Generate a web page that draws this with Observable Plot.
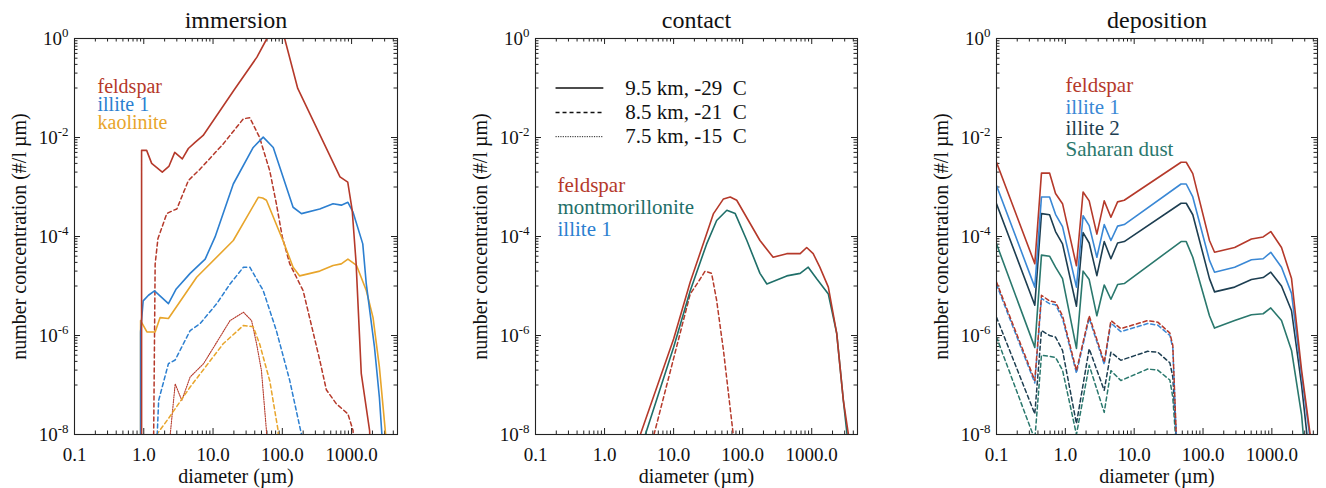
<!DOCTYPE html>
<html><head><meta charset="utf-8">
<script src="https://cdn.jsdelivr.net/npm/d3@7"></script>
<script src="https://cdn.jsdelivr.net/npm/@observablehq/plot@0.6"></script>
<style>
body{margin:0;background:#fff;}
#wrap{position:relative;width:1326px;height:488px;overflow:hidden;background:#fff;}
#wrap svg{position:absolute;top:0;}
#wrap svg, #wrap svg text, #wrap svg tspan{font-family:"Liberation Serif","Times New Roman",Times,serif !important;}
</style></head><body><div id="wrap"></div>
<script>
// ---------- tick labels / titles ----------
const panelTitles = ["immersion", "contact", "deposition"];
const xTickValues = [0.1, 1, 10, 100, 1000];
const yTickValues = [1, 1e-2, 1e-4, 1e-6, 1e-8];
const xLabel = "diameter (µm)";
const yLabel = "number concentration (#/l µm)";

// ---------- immersion ----------
const immFeldspar95 = [[0.93,1e-9],[0.93,5.5e-3],[1.1,5.5e-3],[1.3,3.0e-3],[1.85,2.0e-3],[2.3,2.6e-3],[2.8,5.0e-3],[3.6,3.7e-3],[4.4,6.0e-3],[5.5,8.0e-3],[7.2,1.1e-2],[20,9e-2],[43,0.42],[60,1.0],[89,2.8],[108,1.0],[167,0.098],[680,1.6e-3],[880,1.25e-3],[1020,3.4e-4],[1160,3e-5],[1380,1.7e-7],[1820,1.2e-8],[1950,1e-9]];
const immFeldspar85 = [[1.37,1e-9],[1.46,2.8e-5],[1.6,9e-5],[2.15,2.9e-4],[2.7,3.4e-4],[3.0,3.6e-4],[4.4,1.35e-3],[6.5,2.3e-3],[14,7.4e-3],[27.5,2.4e-2],[34,2.5e-2],[47,1.0e-2],[66,2.1e-3],[82,4.6e-4],[100,9.8e-5],[128,2.8e-5],[160,1.5e-5],[200,8e-6],[347,3.2e-7],[432,8e-8],[600,4.2e-8],[885,2.6e-8],[1050,1.2e-8],[1120,1e-9]];
const immFeldspar75 = [[2.05,1e-9],[2.84,1.05e-7],[3.54,4.9e-8],[4.67,1.45e-7],[7.3,2.7e-7],[17.6,2e-6],[27.5,2.95e-6],[36,2e-6],[42.5,6.8e-7],[50,1.95e-7],[59,1.2e-8],[62,1e-9]];
const immIllite95 = [[0.9,1e-9],[0.9,1.2e-6],[0.98,5e-6],[1.17,6.5e-6],[1.43,8e-6],[2.27,4.4e-6],[2.94,8.7e-6],[4.67,1.8e-5],[7.7,3.5e-5],[10.7,9.8e-5],[19.6,1.15e-3],[38,6.3e-3],[53,1.02e-2],[74,6.3e-3],[143,3.9e-4],[189,2.9e-4],[347,3.6e-4],[540,4.6e-4],[710,4.3e-4],[885,4.9e-4],[1050,3.1e-4],[1450,7.1e-5],[1630,1.1e-5],[2140,5.8e-7],[2520,5.6e-8],[2740,1e-8],[2900,1e-9]];
const immIllite85 = [[1.46,1e-9],[1.64,4.9e-8],[2.27,2.7e-7],[2.84,3.2e-7],[4.67,1.26e-6],[6.5,1.74e-6],[11.3,4.4e-6],[17.6,1.1e-5],[27.5,2.4e-5],[34,2.4e-5],[53,8.1e-6],[82,1.26e-6],[128,1.23e-7],[189,1e-8],[200,1e-9]];
const immKaolinite95 = [[0.9,1e-9],[0.9,2e-6],[1.11,1.18e-6],[1.46,1.18e-6],[1.72,2.3e-6],[2.27,2.2e-6],[5.8,1.5e-5],[19.6,8.3e-5],[45,6.2e-4],[52,6e-4],[59,5.4e-4],[102,8.3e-5],[143,2.4e-5],[178,1.6e-5],[347,2e-5],[540,2.6e-5],[710,2.8e-5],[885,3.5e-5],[1180,2.6e-5],[1630,8.1e-6],[2040,2.3e-6],[2520,2.3e-7],[3100,1e-8],[3300,1e-9]];
const immKaolinite85 = [[1.5,1e-9],[1.54,1e-8],[2.27,2.1e-8],[4.67,9.1e-8],[14,6.8e-7],[27.5,1.6e-6],[38,1.5e-6],[47,6.8e-7],[66,1.2e-7],[87,1.2e-8],[90,1e-9]];

// ---------- contact ----------
const conFeldspar95 = [[3.3,1e-8],[10,8.5e-7],[17.4,1.2e-5],[30,1.12e-4],[37.8,2.9e-4],[52.7,5.75e-4],[66,6.3e-4],[82,5.4e-4],[178,8.3e-5],[276,3.8e-5],[435,4.5e-5],[680,4.5e-5],[845,6e-5],[1050,4.5e-5],[1310,2.4e-5],[1740,9.5e-6],[2300,1.1e-6],[2870,4.9e-8],[3400,1e-8],[3500,1e-9]];
const conMontmor95 = [[3.9,1e-8],[10,5.8e-7],[17.4,8e-6],[30,7e-5],[42,2.1e-4],[59,3.4e-4],[78,2.9e-4],[115,8.3e-5],[178,1.8e-5],[224,1.1e-5],[435,1.6e-5],[680,1.8e-5],[890,2.4e-5],[1180,1.4e-5],[1740,6.9e-6],[2300,1.1e-6],[2870,4.9e-8],[3250,1e-8],[3350,1e-9]];
const conFeldspar85 = [[5.2,1e-8],[17.4,6.9e-6],[21.8,1.1e-5],[28.6,2e-5],[35.5,1.8e-5],[42,5.1e-6],[52.7,5e-7],[73,1e-8],[76,1e-9]];

// ---------- deposition ----------
const depSolidD = [0.1,0.36,0.45,0.59,0.72,0.91,1.45,1.81,2.22,2.87,3.67,4.59,5.74,7.17,48,57,71,124,147,288,505,747,964,1380,1930,2700,3600];
const depFeldspar95 = [3.16e-3,2.82e-5,1.91e-3,1.91e-3,7.4e-4,4.6e-4,2.57e-5,7.9e-4,5.25e-4,1.12e-4,5.25e-4,2.45e-4,5.0e-4,5.4e-4,3.16e-3,3.16e-3,1.86e-3,8.3e-5,4.8e-5,6.0e-5,8.9e-5,9.8e-5,1.26e-4,6.0e-5,1.41e-5,2.0e-7,1e-8];
const depIllite1_95 = [1.07e-3,9.5e-6,6.3e-4,6.3e-4,2.8e-4,1.58e-4,9.5e-6,2.63e-4,1.66e-4,3.8e-5,1.74e-4,8.3e-5,1.62e-4,1.74e-4,1.15e-3,1.15e-3,6.3e-4,3.3e-5,1.9e-5,2.4e-5,3.4e-5,3.55e-5,4.8e-5,2.4e-5,7.1e-6,1.6e-7,7.9e-9];
const depIllite2_95 = [4.6e-4,4.1e-6,2.9e-4,2.75e-4,1.26e-4,7.1e-5,3.9e-6,1.2e-4,7.4e-5,1.62e-5,7.9e-5,3.55e-5,7.4e-5,7.9e-5,4.7e-4,4.7e-4,2.75e-4,1.41e-5,7.6e-6,9.5e-6,1.35e-5,1.48e-5,1.9e-5,1.0e-5,3.16e-6,1.0e-7,2.5e-9];
const depSaharan95 = [7.1e-5,5.75e-7,4.2e-5,4.0e-5,2.4e-5,1.41e-5,5.5e-7,2.0e-5,1.35e-5,2.5e-6,1.05e-5,5.4e-6,1.07e-5,1.12e-5,7.9e-5,7.9e-5,3.8e-5,2.5e-6,1.41e-6,2.0e-6,2.63e-6,2.75e-6,3.6e-6,2.0e-6,5.0e-7,2.5e-8,2.5e-10];
const depDashD = [0.1,0.36,0.45,0.59,0.72,0.91,1.45,2.22,3.67,4.59,6.4,15.7,22,33,36.4,40.6,42];
const depFeldspar85 = [1.2e-5,1.23e-7,6.5e-6,5.0e-6,4.7e-6,2.5e-6,1.95e-7,2.5e-6,2.9e-7,2.0e-6,1.38e-6,2.0e-6,1.86e-6,1.12e-6,6.3e-7,1.2e-8,1e-9];
const depIllite1_85 = [1.07e-5,1.1e-7,5.6e-6,4.4e-6,4.2e-6,2.2e-6,1.74e-7,2.24e-6,2.6e-7,1.78e-6,1.2e-6,1.74e-6,1.62e-6,1.0e-6,5.6e-7,1.1e-8,1e-9];
const depIllite2_85 = [2.34e-6,2.6e-8,1.26e-6,1.0e-6,9.3e-7,5.0e-7,1.66e-8,5.4e-7,7.8e-8,4.6e-7,3.16e-7,4.8e-7,4.6e-7,2.8e-7,1.45e-7,1e-8,1e-9];
const depSaharan85 = [9.3e-7,7.9e-9,4.0e-7,3.8e-7,3.6e-7,2.0e-7,1.0e-8,2.5e-7,2.8e-8,1.95e-7,1.23e-7,2.1e-7,2.0e-7,1.26e-7,5.6e-8,6.3e-9,1e-9];

// ---------- legends ----------
const styleLegendLabels = ["9.5 km, -29  C", "8.5 km, -21  C", "7.5 km, -15  C"];
const styleLegendY = [0.1, 0.032, 0.0104];
const styleLegendStyles = ["solid", "dashed", "dotted"];

const C = {feldspar:"#b5392a", illite1:"#2c7fd0", kaolinite:"#e8a52b", montmorillonite:"#1f6f69", illite2:"#1d3e51", saharan:"#2a786d", illite1dep:"#3a88d5"};
const STYLE = {solid:{w:1.6, dash:null}, dashed:{w:1.5, dash:"4,3"}, dotted:{w:1.1, dash:"1.2,1.2"}};

const zip = (xs, ys) => xs.map((x, i) => [x, ys[i]]);

const panels = [
  {left:0, width:440, ml:74, mr:43,
   series:[
     [immFeldspar75,"dotted",C.feldspar],[immKaolinite85,"dashed",C.kaolinite],[immIllite85,"dashed",C.illite1],[immFeldspar85,"dashed",C.feldspar],
     [immKaolinite95,"solid",C.kaolinite],[immIllite95,"solid",C.illite1],[immFeldspar95,"solid",C.feldspar]],
   legend:{items:[["feldspar",C.feldspar],["illite 1",C.illite1],["kaolinite",C.kaolinite]], dx:23, dy:48, step:18, size:20}},
  {left:440, width:440, ml:95, mr:23,
   series:[[conFeldspar85,"dashed",C.feldspar],[conMontmor95,"solid",C.montmorillonite],[conFeldspar95,"solid",C.feldspar]],
   legend:{items:[["feldspar",C.feldspar],["montmorillonite",C.montmorillonite],["illite 1",C.illite1]], dx:22, dy:147, step:22, size:21},
   styleLegend:true},
  {left:880, width:446, ml:116, mr:9,
   series:[
     [zip(depDashD,depSaharan85),"dashed",C.saharan],[zip(depDashD,depIllite2_85),"dashed",C.illite2],[zip(depDashD,depIllite1_85),"dashed",C.illite1dep],[zip(depDashD,depFeldspar85),"dashed",C.feldspar],
     [zip(depSolidD,depSaharan95),"solid",C.saharan],[zip(depSolidD,depIllite2_95),"solid",C.illite2],[zip(depSolidD,depIllite1_95),"solid",C.illite1dep],[zip(depSolidD,depFeldspar95),"solid",C.feldspar]],
   legend:{items:[["feldspar",C.feldspar],["illite 1",C.illite1dep],["illite 2",C.illite2],["Saharan dust",C.saharan]], dx:69, dy:47, step:21.3, size:21}}
];

const H = 488, MT = 38, MB = 54;
const xMinor = [];
for (let k = -1; k <= 3; k++) for (let m = 2; m <= 9; m++) { const v = m * 10 ** k; if (v <= 4600) xMinor.push(v); }
const yMinor = [];
for (const n of [-1, -3, -5, -7]) for (let m = 1; m <= 9; m++) yMinor.push(m * 10 ** n);

const wrap = document.getElementById("wrap");
const FONT = '"Liberation Serif", "Times New Roman", Times, serif';

panels.forEach((p, pi) => {
  const iw = p.width - p.ml - p.mr, ih = H - MT - MB;
  const tickStroke = "#222";
  const marks = [
    Plot.ruleX(xTickValues, {insetTop: ih - 6, stroke: tickStroke}),
    Plot.ruleX(xMinor, {insetTop: ih - 3.5, stroke: tickStroke}),
    Plot.ruleX(xTickValues, {insetBottom: ih - 6, stroke: tickStroke}),
    Plot.ruleX(xMinor, {insetBottom: ih - 3.5, stroke: tickStroke}),
    Plot.ruleY(yTickValues, {insetRight: iw - 6, stroke: tickStroke}),
    Plot.ruleY(yMinor, {insetRight: iw - 3.5, stroke: tickStroke}),
    Plot.ruleY(yTickValues, {insetLeft: iw - 6, stroke: tickStroke}),
    Plot.ruleY(yMinor, {insetLeft: iw - 3.5, stroke: tickStroke}),
  ];
  for (const [data, st, col] of p.series) {
    marks.push(Plot.line(data, {x: d => d[0], y: d => d[1], stroke: col, strokeWidth: STYLE[st].w, strokeDasharray: STYLE[st].dash, clip: true}));
  }
  p.legend.items.forEach(([lab, col], i) => {
    marks.push(Plot.text([lab], {frameAnchor: "top-left", textAnchor: "start", lineAnchor: "middle", dx: p.legend.dx, dy: p.legend.dy + i * p.legend.step, fill: col, fontSize: p.legend.size}));
  });
  if (p.styleLegend) {
    styleLegendLabels.forEach((lab, i) => {
      const st = STYLE[styleLegendStyles[i]];
      marks.push(Plot.link([0], {x1: 0.195, x2: 0.96, y1: styleLegendY[i], y2: styleLegendY[i], stroke: "#111", strokeWidth: st.w * 0.85, strokeDasharray: st.dash}));
      marks.push(Plot.text([lab], {x: 2.0, y: styleLegendY[i], textAnchor: "start", lineAnchor: "middle", fill: "#111", fontSize: 21}));
    });
  }
  marks.push(
    Plot.axisX(xTickValues, {tickSize: 0, tickPadding: 13, tickFormat: d => d.toFixed(1), fontSize: 19, fill: "#111"}),
    Plot.axisY(yTickValues, {tickSize: 0, tickPadding: 6, tickFormat: d => `10^${Math.round(Math.log10(d))}`, fontSize: 19, fill: "#111"}),
    Plot.text([panelTitles[pi]], {frameAnchor: "top", lineAnchor: "middle", textAnchor: "middle", dy: -18, fontSize: 24, fill: "#111"}),
    Plot.text([xLabel], {frameAnchor: "bottom", lineAnchor: "middle", textAnchor: "middle", dy: 42, fontSize: 20, fill: "#111"}),
    Plot.text([yLabel], {frameAnchor: "left", lineAnchor: "middle", textAnchor: "middle", rotate: -90, dx: -55, fontSize: 20, fill: "#111"}),
    Plot.frame({stroke: "#222", strokeWidth: 1.1})
  );
  const svg = Plot.plot({
    width: p.width, height: H,
    marginLeft: p.ml, marginRight: p.mr, marginTop: MT, marginBottom: MB,
    x: {type: "log", domain: [0.1, 4600]},
    y: {type: "log", domain: [1e-8, 1]},
    style: {fontFamily: FONT, fontSize: "19px", background: "transparent", color: "#111", overflow: "visible"},
    marks
  });
  svg.style.left = p.left + "px";
  d3.select(svg).selectAll('g[aria-label="y-axis tick label"] text').each(function () {
    const m = this.textContent.match(/^10\^(-?\d+)$/);
    if (m) {
      this.textContent = "10";
      d3.select(this).append("tspan").attr("dy", "-0.55em").attr("font-size", "0.68em").text(m[1]);
    }
  });
  wrap.appendChild(svg);
});
</script></body></html>
